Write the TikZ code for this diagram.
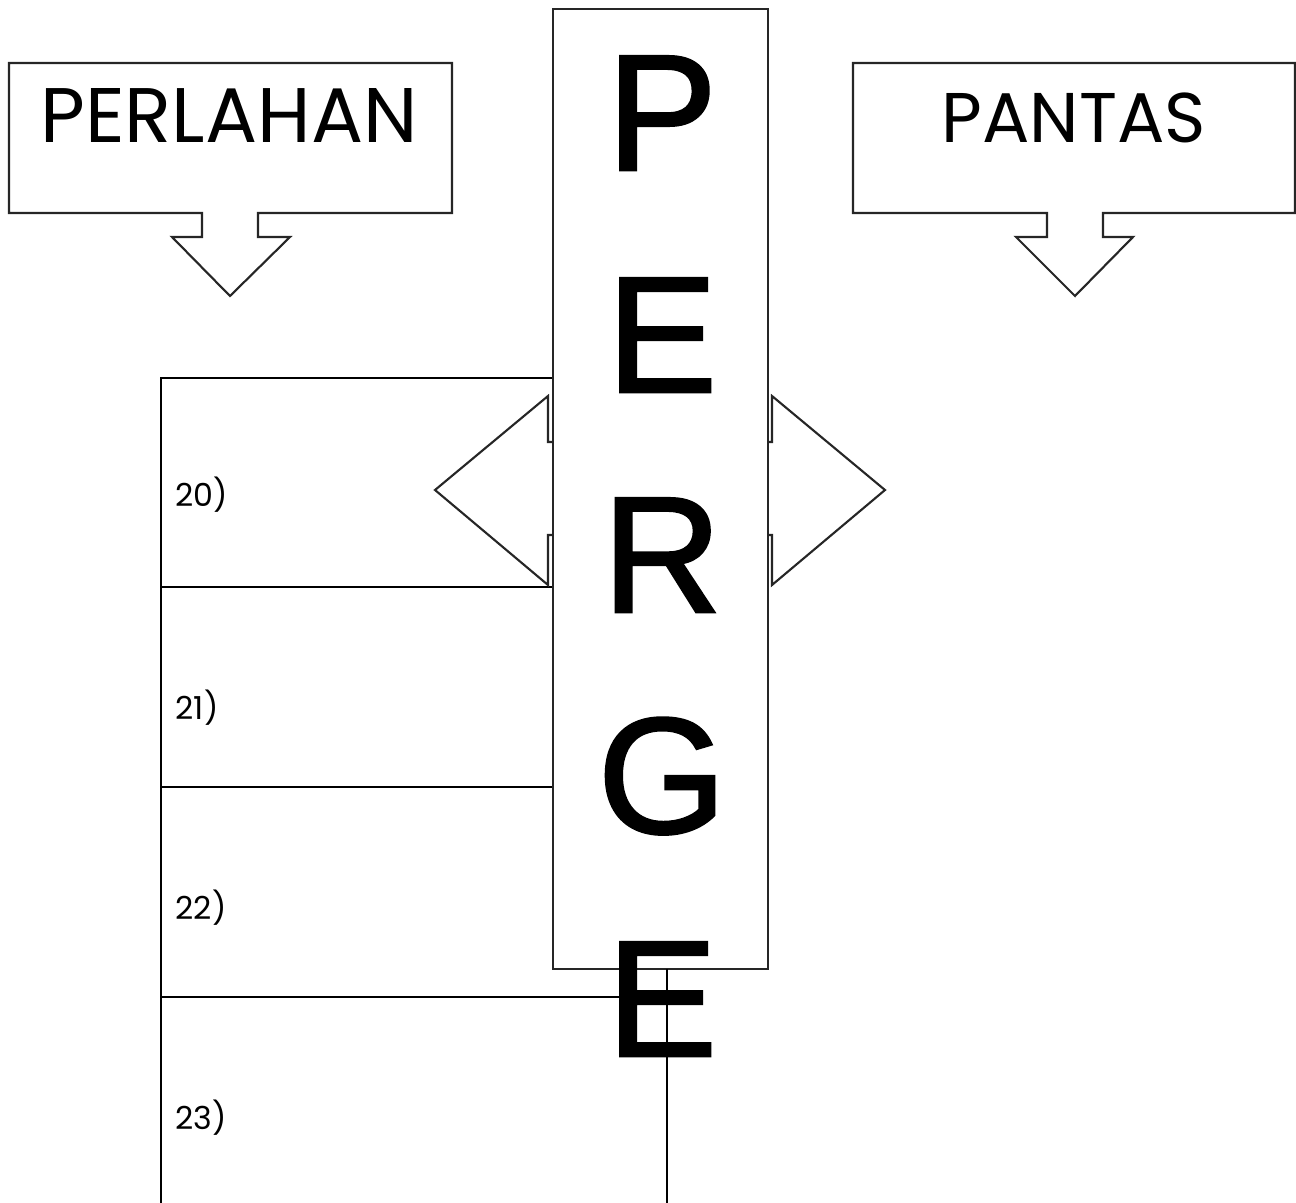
\documentclass[tikz,border=0pt]{standalone}
\usepackage{fontspec}
\setmainfont{Liberation Sans}
\newfontfamily\gothic{Poppins}
\newfontfamily\column[BoldFont=Liberation Sans,BoldFeatures={FakeBold=1.6}]{Liberation Sans}

\begin{document}
\begin{tikzpicture}[
        x=0.01cm, y=-0.01cm,
        shapeline/.style={draw=black!85,line width=0.6pt,fill=white},
        rowline/.style={line width=0.8pt},
        bigletter/.style={anchor=base,inner sep=0pt,font=\column\bfseries\fontsize{47pt}{47pt}\selectfont},
        rownum/.style={anchor=base west,inner sep=0pt,font=\gothic\fontsize{9pt}{9pt}\selectfont},
      ]
      \useasboundingbox (0,0) rectangle (1296,1203);
      % table rows
      \coordinate (t0) at (161,378);
      \coordinate (t1) at (161,587);
      \coordinate (t2) at (161,787);
      \coordinate (t3) at (161,997);
      \coordinate (tb) at (161,1203);
      \draw[rowline] (tb) -- (t0) -- ++(506,0);
      \draw[rowline] (t1) -- ++(506,0);
      \draw[rowline] (t2) -- ++(506,0);
      \draw[rowline] (t3) -- ++(506,0);
      \node[rownum] (n20) at (175,506) {20)};
      \node[rownum] (n21) at (175,719) {21)};
      \node[rownum] (n22) at (175,919) {22)};
      \node[rownum] (n23) at (175,1129) {23)};
      % left and right callouts
      \draw[shapeline] (9,63) -- (452,63) -- (452,213) -- (258,213) -- (258,237)
        -- (290,237) -- (230,296) -- (172,237) -- (202,237) -- (202,213) -- (9,213) -- cycle;
      \node[anchor=base,inner sep=0pt,font=\gothic\fontsize{22pt}{22pt}\selectfont] (slow) at (229,142) {PERLAHAN};
      \draw[shapeline] (853,63) -- (1295,63) -- (1295,213) -- (1103,213) -- (1103,237)
        -- (1133,237) -- (1075,296) -- (1016,237) -- (1047,237) -- (1047,213) -- (853,213) -- cycle;
      \node[anchor=base,inner sep=0pt,font=\gothic\fontsize{20pt}{20pt}\selectfont] (fast) at (1074,142) {PANTAS};
      % double arrow behind the column
      \draw[shapeline] (435,490) -- (548,396) -- (548,442) -- (772,442) -- (772,396) -- (885,490)
        -- (772,585) -- (772,535) -- (548,535) -- (548,585) -- cycle;
      % column
      \draw[shapeline] (553,9) rectangle (768,969);
      \node[bigletter] (p) at (662,170) {P};
      \node[bigletter] (e1) at (662,392) {E};
      \node[bigletter] (r) at (662,612) {R};
      \node[bigletter] (g) at (662,833) {G};
      \node[bigletter] (e2) at (662,1056) {E};
      \coordinate (c1) at (667,969);
      \draw[rowline] (c1) -- (c1 |- tb);
    \end{tikzpicture}
\end{document}
